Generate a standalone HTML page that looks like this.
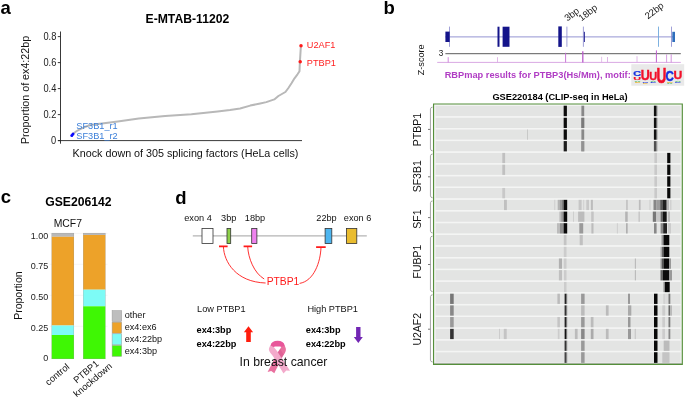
<!DOCTYPE html>
<html lang="en">
<head>
<meta charset="utf-8">
<title>Figure</title>
<style>
html,body{margin:0;padding:0;background:#fff;}
body{width:685px;height:397px;overflow:hidden;}
svg{display:block;font-family:"Liberation Sans", Arial, sans-serif;}
</style>
</head>
<body>
<svg width="685" height="397" viewBox="0 0 685 397">
<rect width="685" height="397" fill="#fff"/>
<text x="0.5" y="14.1" font-size="18.5" fill="#000" font-weight="bold">a</text>
<text x="187.4" y="23.4" font-size="12.2" fill="#000" font-weight="bold" text-anchor="middle">E-MTAB-11202</text>
<path d="M60.5 31.5V143.7M58 140.6H302" fill="none" stroke="#222" stroke-width="0.9"/>
<path d="M57.8 36.6H60.5" stroke="#222" stroke-width="0.9"/>
<text transform="translate(56.3 40.45) scale(0.93 1)" font-size="10" fill="#222" text-anchor="end">0.8</text>
<path d="M57.8 62.6H60.5" stroke="#222" stroke-width="0.9"/>
<text transform="translate(56.3 66.45) scale(0.93 1)" font-size="10" fill="#222" text-anchor="end">0.6</text>
<path d="M57.8 88.6H60.5" stroke="#222" stroke-width="0.9"/>
<text transform="translate(56.3 92.45) scale(0.93 1)" font-size="10" fill="#222" text-anchor="end">0.4</text>
<path d="M57.8 114.6H60.5" stroke="#222" stroke-width="0.9"/>
<text transform="translate(56.3 118.45) scale(0.93 1)" font-size="10" fill="#222" text-anchor="end">0.2</text>
<path d="M57.8 140.6H60.5" stroke="#222" stroke-width="0.9"/>
<text transform="translate(56.3 144.45) scale(0.93 1)" font-size="10" fill="#222" text-anchor="end">0</text>
<text x="29.0" y="90.0" font-size="10.7" fill="#111" text-anchor="middle" transform="rotate(-90 29.0 90.0)">Proportion of ex4:22bp</text>
<text x="185.5" y="156.9" font-size="10.75" fill="#111" text-anchor="middle">Knock down of 305 splicing factors (HeLa cells)</text>
<polyline fill="none" stroke="#b8b8b8" stroke-width="2.0" stroke-linejoin="round" points="71.8,135.4 73.2,133.8 76,131.5 79.7,129.4 84,127.3 88.9,125.5 95,124.3 102,123.4 117.8,121.5 138.8,118.6 165.1,116 191.4,114.2 217.6,111.5 230,110 240.1,108.5 250.2,105.6 260.2,103.5 266.3,102.1 274.3,99.4 278.4,96 285.4,92 288.4,88 291.5,83.3 294.5,78.3 297.5,74.3 299.5,71.2 299.9,61.8 300.9,46"/>
<circle cx="71.8" cy="135.4" r="1.5" fill="#0a0aff"/><circle cx="73.0" cy="133.9" r="1.5" fill="#0a0aff"/>
<circle cx="301.0" cy="45.8" r="1.75" fill="#ff1a1a"/><circle cx="300.2" cy="61.8" r="1.75" fill="#ff1a1a"/>
<text x="306.8" y="47.9" font-size="9.2" fill="#ff1f1f">U2AF1</text>
<text x="306.8" y="66.2" font-size="9.2" fill="#ff1f1f">PTBP1</text>
<text x="76.3" y="129.4" font-size="9.2" fill="#3b7fd9">SF3B1_r1</text>
<text x="76.3" y="138.7" font-size="9.2" fill="#3b7fd9">SF3B1_r2</text>
<text x="0.7" y="203.3" font-size="18.5" fill="#000" font-weight="bold">c</text>
<text x="78.4" y="205.8" font-size="12.2" fill="#000" font-weight="bold" text-anchor="middle">GSE206142</text>
<text x="67.8" y="226.8" font-size="10.4" fill="#111" text-anchor="middle">MCF7</text>
<path d="M49.5 233.4H107.5M49.5 264.3H107.5M49.5 295.3H107.5M49.5 326.3H107.5" stroke="#f1f1f1" stroke-width="0.7"/>
<rect x="51.70" y="233.00" width="22.30" height="3.80" fill="#b9b9b9"/>
<rect x="51.70" y="236.80" width="22.30" height="88.70" fill="#eda229"/>
<rect x="51.70" y="325.50" width="22.30" height="9.50" fill="#7dfbf6"/>
<rect x="51.70" y="335.00" width="22.30" height="24.00" fill="#3ff704"/>
<rect x="51.85" y="233.15" width="22.00" height="125.7" fill="none" stroke="#9a9a9a" stroke-width="0.35" opacity="0.8"/>
<rect x="83.10" y="233.00" width="22.30" height="2.00" fill="#b9b9b9"/>
<rect x="83.10" y="235.00" width="22.30" height="54.70" fill="#eda229"/>
<rect x="83.10" y="289.70" width="22.30" height="16.60" fill="#7dfbf6"/>
<rect x="83.10" y="306.30" width="22.30" height="52.70" fill="#3ff704"/>
<rect x="83.25" y="233.15" width="22.00" height="125.7" fill="none" stroke="#9a9a9a" stroke-width="0.35" opacity="0.8"/>
<text x="48.2" y="238.70000000000002" font-size="9" fill="#222" text-anchor="end">1.00</text>
<text x="48.2" y="269.3" font-size="9" fill="#222" text-anchor="end">0.75</text>
<text x="48.2" y="300.3" font-size="9" fill="#222" text-anchor="end">0.50</text>
<text x="48.2" y="330.90000000000003" font-size="9" fill="#222" text-anchor="end">0.25</text>
<text x="48.2" y="360.90000000000003" font-size="9" fill="#222" text-anchor="end">0</text>
<text x="22.2" y="295.6" font-size="10.5" fill="#111" text-anchor="middle" transform="rotate(-90 22.2 295.6)">Proportion</text>
<rect x="112.10" y="310.60" width="9.60" height="11.00" fill="#bebebe" stroke="#9a9a9a" stroke-width="0.5"/>
<text x="124.7" y="318.2" font-size="9.1" fill="#111">other</text>
<rect x="112.10" y="322.20" width="9.60" height="11.00" fill="#eda229" stroke="#9a9a9a" stroke-width="0.5"/>
<text x="124.7" y="330.13" font-size="9.1" fill="#111">ex4:ex6</text>
<rect x="112.10" y="333.80" width="9.60" height="11.00" fill="#7dfbf6" stroke="#9a9a9a" stroke-width="0.5"/>
<text x="124.7" y="342.06" font-size="9.1" fill="#111">ex4:22bp</text>
<rect x="112.10" y="345.40" width="9.60" height="11.00" fill="#3ff704" stroke="#9a9a9a" stroke-width="0.5"/>
<text x="124.7" y="353.99" font-size="9.1" fill="#111">ex4:3bp</text>
<text x="70.0" y="367.8" font-size="9.4" fill="#111" text-anchor="end" transform="rotate(-40 70.0 367.8)">control</text>
<g transform="translate(88.0 374.2) rotate(-40)"><text font-size="9.4" fill="#111" text-anchor="middle"><tspan x="0" y="0">PTBP1</tspan><tspan x="0" y="10.6">knockdown</tspan></text></g>
<text x="175.2" y="204.1" font-size="18.5" fill="#000" font-weight="bold">d</text>
<path d="M192.8 235.9H366.8" stroke="#b4b4b4" stroke-width="1.1"/>
<rect x="202.00" y="228.40" width="11.00" height="15.20" fill="#ffffff" stroke="#333" stroke-width="0.8"/>
<rect x="227.00" y="228.40" width="3.70" height="15.20" fill="#8ed04a" stroke="#333" stroke-width="0.8"/>
<rect x="251.70" y="228.40" width="5.20" height="15.20" fill="#ee82ee" stroke="#333" stroke-width="0.8"/>
<rect x="325.10" y="228.40" width="6.70" height="15.20" fill="#4db5ef" stroke="#333" stroke-width="0.8"/>
<rect x="346.40" y="228.40" width="10.40" height="15.20" fill="#e9bc2f" stroke="#333" stroke-width="0.8"/>
<text x="198.0" y="221.4" font-size="9.2" fill="#111" text-anchor="middle">exon 4</text>
<text x="228.7" y="221.4" font-size="9.2" fill="#111" text-anchor="middle">3bp</text>
<text x="255.0" y="221.4" font-size="9.2" fill="#111" text-anchor="middle">18bp</text>
<text x="326.5" y="221.4" font-size="9.2" fill="#111" text-anchor="middle">22bp</text>
<text x="357.6" y="221.4" font-size="9.2" fill="#111" text-anchor="middle">exon 6</text>
<path d="M219 246.4H227.6M243.6 246.4H252.1M316.1 247.1H325.7" stroke="#ff1a1a" stroke-width="1.7" fill="none"/>
<path d="M223.4 246.6C224 262 236 282 265.6 283" stroke="#ff1a1a" stroke-width="0.9" fill="none"/>
<path d="M247.7 246.6C248.2 258 254 273 264.2 279" stroke="#ff1a1a" stroke-width="0.9" fill="none"/>
<path d="M321 247.3C320.5 262 314 281 299.6 283.4" stroke="#ff1a1a" stroke-width="0.9" fill="none"/>
<text x="283.0" y="285.4" font-size="10.3" fill="#ff1a1a" text-anchor="middle">PTBP1</text>
<text x="197.1" y="312.0" font-size="9.2" fill="#111">Low PTBP1</text>
<text x="307.4" y="312.0" font-size="9.2" fill="#111">High PTBP1</text>
<text x="196.6" y="333.4" font-size="9.2" fill="#000" font-weight="bold">ex4:3bp</text>
<text x="196.6" y="347.4" font-size="9.2" fill="#000" font-weight="bold">ex4:22bp</text>
<text x="305.8" y="333.3" font-size="9.2" fill="#000" font-weight="bold">ex4:3bp</text>
<text x="305.8" y="347.4" font-size="9.2" fill="#000" font-weight="bold">ex4:22bp</text>
<path d="M248.5 326.2L253.1 332.2H250.8V342H246.2V332.2H243.9Z" fill="#ff1d0d"/>
<path d="M358.3 343L362.8 336.9H360.5V326.9H356.1V336.9H353.8Z" fill="#7226b4"/>
<path d="M281.6 346.6L277.4 353.2L267.6 372L271.2 370.9L274.3 373.3L281.6 358.4C284.4 354 286.4 351.6 285.8 348.6C285.4 346.6 284.4 344.8 283.3 343.4Z" fill="#e9709f"/>
<path d="M273.4 346.6L278.2 352.4L290 370.7L286.3 370.6L283.5 373.5L273.2 356.4C270.4 352.4 268.4 351 269 348.4C269.6 346.2 270.6 344.6 271.9 343.4Z" fill="#f3aacb"/>
<path d="M277.8 352.2L281.4 357.8L283.6 354.6L280.2 349Z" fill="#dc5d93" opacity="0.75"/>
<path d="M270.6 345.4C271.2 342.2 273.6 340.7 277.6 340.7C281.6 340.7 284 342.2 284.6 345.4L281.8 347.1C280.6 346.6 279.4 346.5 277.6 346.5C275.8 346.5 274.6 346.6 273.4 347.1Z" fill="#e8569a"/>
<text x="239.6" y="365.8" font-size="12.25" fill="#111">In breast cancer</text>
<text x="383.6" y="14.1" font-size="18.5" fill="#000" font-weight="bold">b</text>
<path d="M445.4 36.9H675" stroke="#8888cd" stroke-width="0.9"/>
<path d="M449.5 26.6V46.8" stroke="#8888cd" stroke-width="0.8"/>
<path d="M566.9 26.6V46.8" stroke="#8888cd" stroke-width="0.8"/>
<path d="M583.4 26.6V46.8" stroke="#8888cd" stroke-width="0.8"/>
<path d="M671.5 26.6V46.8" stroke="#8888cd" stroke-width="0.8"/>
<path d="M658.5 26.6V46.8" stroke="#6fa8dc" stroke-width="0.9"/>
<rect x="445.40" y="31.60" width="4.30" height="10.40" fill="#14148a"/>
<rect x="497.50" y="26.70" width="2.00" height="20.10" fill="#14148a"/>
<rect x="502.60" y="26.70" width="6.90" height="20.10" fill="#14148a"/>
<rect x="558.30" y="26.40" width="3.50" height="20.50" fill="#14148a"/>
<rect x="583.90" y="31.80" width="0.90" height="10.20" fill="#14148a"/>
<rect x="672.30" y="31.80" width="2.70" height="10.20" fill="#2f6fbd"/>
<text x="567.6" y="21.6" font-size="9.4" fill="#111" transform="rotate(-38 567.6 21.6)">3bp</text>
<text x="581.6" y="21.6" font-size="9.4" fill="#111" transform="rotate(-38 581.6 21.6)">18bp</text>
<text x="648.0" y="19.6" font-size="9.4" fill="#111" transform="rotate(-38 648.0 19.6)">22bp</text>
<text x="441.0" y="56.4" font-size="8.2" fill="#222" text-anchor="middle">3</text>
<path d="M445.4 53.7H680.8" stroke="#4a4a4a" stroke-width="0.9"/>
<path d="M437.2 62.4H680.8" stroke="#cf93dc" stroke-width="0.8"/>
<path d="M448.2 57.2V62.4" stroke="#c76fd6" stroke-width="0.8"/>
<path d="M497.5 57.2V62.4" stroke="#d9a7e2" stroke-width="0.8"/>
<path d="M565.6 52.8V62.4" stroke="#c36ad3" stroke-width="0.9"/>
<path d="M582.8 51.2V62.4" stroke="#b95ccb" stroke-width="1.3"/>
<path d="M601.6 56.8V62.4" stroke="#dcb0e5" stroke-width="0.8"/>
<path d="M607.5 57.0V62.4" stroke="#d7a5e1" stroke-width="0.8"/>
<path d="M637.0 56.2V62.4" stroke="#dcb2e6" stroke-width="0.9"/>
<path d="M656.4 50.4V62.4" stroke="#bd62ce" stroke-width="1.0"/>
<path d="M666.6 54.4V62.4" stroke="#cc85da" stroke-width="0.8"/>
<path d="M671.2 54.4V62.4" stroke="#c777d6" stroke-width="0.8"/>
<text x="423.8" y="59.8" font-size="9.1" fill="#111" text-anchor="middle" transform="rotate(-90 423.8 59.8)">Z-score</text>
<text x="444.7" y="77.8" font-size="9.25" fill="#b03cc4" font-weight="bold">RBPmap results for PTBP3(Hs/Mm), motif:</text>
<rect x="631.30" y="64.20" width="52.90" height="21.50" fill="#e9e9e9"/>
<text transform="translate(633.25 76.43) scale(1.087 0.806)" font-size="10" font-weight="bold" fill="#1530e0" stroke="#1530e0" stroke-width="0.3">C</text>
<text transform="translate(640.75 80.07) scale(1.250 1.435)" font-size="10" font-weight="bold" fill="#f2102a" stroke="#f2102a" stroke-width="0.3">U</text>
<text transform="translate(649.34 79.50) scale(1.100 1.090)" font-size="10" font-weight="bold" fill="#f2102a" stroke="#f2102a" stroke-width="0.3">U</text>
<text transform="translate(656.38 83.20) scale(1.367 2.267)" font-size="10" font-weight="bold" fill="#f2102a" stroke="#f2102a" stroke-width="0.3">U</text>
<text transform="translate(665.53 80.76) scale(1.149 1.513)" font-size="10" font-weight="bold" fill="#1530e0" stroke="#1530e0" stroke-width="0.3">C</text>
<text transform="translate(673.47 78.89) scale(1.217 1.176)" font-size="10" font-weight="bold" fill="#f2102a" stroke="#f2102a" stroke-width="0.3">U</text>
<text transform="translate(633.34 79.57) scale(1.100 0.359)" font-size="10" font-weight="bold" fill="#f2102a" stroke="#f2102a" stroke-width="0.15">U</text>
<text transform="translate(634.18 81.70) scale(0.896 0.218)" font-size="10" font-weight="bold" fill="#22b14c" stroke="#22b14c" stroke-width="0.15">A</text>
<text transform="translate(634.70 83.09) scale(0.742 0.141)" font-size="10" font-weight="bold" fill="#f0a800" stroke="#f0a800" stroke-width="0.15">G</text>
<text transform="translate(642.15 82.78) scale(0.842 0.212)" font-size="10" font-weight="bold" fill="#1530e0" stroke="#1530e0" stroke-width="0.15">C</text>
<text transform="translate(642.73 83.79) scale(0.668 0.113)" font-size="10" font-weight="bold" fill="#f0a800" stroke="#f0a800" stroke-width="0.15">G</text>
<text transform="translate(650.29 81.80) scale(0.821 0.233)" font-size="10" font-weight="bold" fill="#22b14c" stroke="#22b14c" stroke-width="0.15">A</text>
<text transform="translate(650.15 83.18) scale(0.842 0.170)" font-size="10" font-weight="bold" fill="#1530e0" stroke="#1530e0" stroke-width="0.15">C</text>
<text transform="translate(666.67 82.59) scale(0.816 0.113)" font-size="10" font-weight="bold" fill="#f0a800" stroke="#f0a800" stroke-width="0.15">G</text>
<text transform="translate(666.79 83.60) scale(0.821 0.116)" font-size="10" font-weight="bold" fill="#22b14c" stroke="#22b14c" stroke-width="0.15">A</text>
<text transform="translate(674.78 81.50) scale(0.896 0.218)" font-size="10" font-weight="bold" fill="#22b14c" stroke="#22b14c" stroke-width="0.15">A</text>
<text transform="translate(674.62 82.98) scale(0.919 0.184)" font-size="10" font-weight="bold" fill="#1530e0" stroke="#1530e0" stroke-width="0.15">C</text>
<text x="560.0" y="99.6" font-size="9.25" fill="#000" font-weight="bold" text-anchor="middle">GSE220184 (CLIP-seq in HeLa)</text>
<rect x="433.55" y="104.00" width="248.75" height="260.30" fill="#f4f4f4"/>
<path d="M434.2 363.45H681.8" stroke="#9a9a9a" stroke-width="0.6"/>
<path d="M433.55 104.0H682.3V364.3H433.55Z" fill="none" stroke="#558f3a" stroke-width="1.15"/>
<rect x="435.60" y="105.90" width="245.00" height="10.35" fill="#e3e4e3"/>
<rect x="435.60" y="117.63" width="245.00" height="10.35" fill="#e3e4e3"/>
<rect x="435.60" y="129.36" width="245.00" height="10.35" fill="#e3e4e3"/>
<rect x="435.60" y="141.09" width="245.00" height="10.35" fill="#e3e4e3"/>
<rect x="435.60" y="152.82" width="245.00" height="10.35" fill="#e3e4e3"/>
<rect x="435.60" y="164.55" width="245.00" height="10.35" fill="#e3e4e3"/>
<rect x="435.60" y="176.28" width="245.00" height="10.35" fill="#e3e4e3"/>
<rect x="435.60" y="188.01" width="245.00" height="10.35" fill="#e3e4e3"/>
<rect x="435.60" y="199.74" width="245.00" height="10.35" fill="#e3e4e3"/>
<rect x="435.60" y="211.47" width="245.00" height="10.35" fill="#e3e4e3"/>
<rect x="435.60" y="223.20" width="245.00" height="10.35" fill="#e3e4e3"/>
<rect x="435.60" y="234.93" width="245.00" height="10.35" fill="#e3e4e3"/>
<rect x="435.60" y="246.66" width="245.00" height="10.35" fill="#e3e4e3"/>
<rect x="435.60" y="258.39" width="245.00" height="10.35" fill="#e3e4e3"/>
<rect x="435.60" y="270.12" width="245.00" height="10.35" fill="#e3e4e3"/>
<rect x="435.60" y="281.85" width="245.00" height="10.35" fill="#e3e4e3"/>
<rect x="435.60" y="293.58" width="245.00" height="10.35" fill="#e3e4e3"/>
<rect x="435.60" y="305.31" width="245.00" height="10.35" fill="#e3e4e3"/>
<rect x="435.60" y="317.04" width="245.00" height="10.35" fill="#e3e4e3"/>
<rect x="435.60" y="328.77" width="245.00" height="10.35" fill="#e3e4e3"/>
<rect x="435.60" y="340.50" width="245.00" height="10.35" fill="#e3e4e3"/>
<rect x="435.60" y="352.23" width="245.00" height="10.35" fill="#e3e4e3"/>
<rect x="563.40" y="105.70" width="0.60" height="10.85" fill="#666666"/>
<rect x="563.40" y="117.43" width="0.60" height="10.85" fill="#666666"/>
<rect x="563.40" y="129.16" width="0.60" height="10.85" fill="#666666"/>
<rect x="564.00" y="105.70" width="2.90" height="10.85" fill="#0c0c0c"/>
<rect x="564.00" y="117.43" width="2.90" height="10.85" fill="#0c0c0c"/>
<rect x="564.00" y="129.16" width="2.90" height="10.85" fill="#0c0c0c"/>
<rect x="563.40" y="140.89" width="0.60" height="10.85" fill="#777777"/>
<rect x="564.00" y="140.89" width="2.90" height="10.85" fill="#1c1c1c"/>
<rect x="581.40" y="105.70" width="2.80" height="10.85" fill="#888888"/>
<rect x="581.40" y="117.43" width="2.80" height="10.85" fill="#888888"/>
<rect x="581.40" y="129.16" width="2.80" height="10.85" fill="#888888"/>
<rect x="581.40" y="140.89" width="2.80" height="10.85" fill="#888888"/>
<rect x="581.40" y="117.43" width="2.80" height="10.85" fill="#7a7a7a"/>
<rect x="581.40" y="140.89" width="2.80" height="10.85" fill="#929292"/>
<rect x="653.90" y="105.70" width="2.10" height="10.85" fill="#101010"/>
<rect x="653.90" y="117.43" width="2.10" height="10.85" fill="#101010"/>
<rect x="653.90" y="129.16" width="2.10" height="10.85" fill="#101010"/>
<rect x="656.00" y="105.70" width="1.30" height="10.85" fill="#6a6a6a"/>
<rect x="656.00" y="117.43" width="1.30" height="10.85" fill="#6a6a6a"/>
<rect x="656.00" y="129.16" width="1.30" height="10.85" fill="#6a6a6a"/>
<rect x="653.90" y="140.89" width="2.10" height="10.85" fill="#505050"/>
<rect x="656.00" y="140.89" width="1.30" height="10.85" fill="#909090"/>
<rect x="527.00" y="129.16" width="0.90" height="10.85" fill="#c6c6c6"/>
<rect x="502.30" y="152.62" width="2.80" height="10.85" fill="#c0c0c0"/>
<rect x="502.30" y="164.35" width="2.80" height="10.85" fill="#c0c0c0"/>
<rect x="502.30" y="187.81" width="2.80" height="10.85" fill="#c8c8c8"/>
<rect x="654.40" y="152.62" width="2.60" height="10.85" fill="#c9c9c9"/>
<rect x="654.40" y="164.35" width="2.60" height="10.85" fill="#c9c9c9"/>
<rect x="654.40" y="176.08" width="2.60" height="10.85" fill="#c9c9c9"/>
<rect x="654.40" y="187.81" width="2.60" height="10.85" fill="#c9c9c9"/>
<rect x="667.20" y="152.62" width="3.20" height="10.85" fill="#080808"/>
<rect x="667.20" y="164.35" width="3.20" height="10.85" fill="#080808"/>
<rect x="667.20" y="176.08" width="3.20" height="10.85" fill="#080808"/>
<rect x="667.20" y="187.81" width="3.20" height="10.85" fill="#080808"/>
<rect x="504.00" y="199.54" width="2.90" height="10.85" fill="#c0c0c0"/>
<rect x="554.40" y="199.54" width="0.80" height="10.85" fill="#c8c8c8"/>
<rect x="557.70" y="199.54" width="2.30" height="10.85" fill="#b4b4b4"/>
<rect x="560.00" y="199.54" width="2.00" height="10.85" fill="#9c9c9c"/>
<rect x="562.00" y="199.54" width="1.60" height="10.85" fill="#808080"/>
<rect x="563.60" y="199.54" width="3.60" height="10.85" fill="#0a0a0a"/>
<rect x="578.60" y="199.54" width="3.00" height="10.85" fill="#c6c6c6"/>
<rect x="583.00" y="199.54" width="1.20" height="10.85" fill="#d4d4d4"/>
<rect x="586.30" y="199.54" width="2.70" height="10.85" fill="#c8c8c8"/>
<rect x="590.90" y="199.54" width="2.00" height="10.85" fill="#bcbcbc"/>
<rect x="626.30" y="199.54" width="1.30" height="10.85" fill="#b8b8b8"/>
<rect x="638.90" y="199.54" width="1.70" height="10.85" fill="#bcbcbc"/>
<rect x="649.50" y="199.54" width="1.00" height="10.85" fill="#cccccc"/>
<rect x="653.50" y="199.54" width="2.70" height="10.85" fill="#868686"/>
<rect x="656.20" y="199.54" width="4.00" height="10.85" fill="#9c9c9c"/>
<rect x="660.20" y="199.54" width="2.80" height="10.85" fill="#585858"/>
<rect x="663.00" y="199.54" width="3.70" height="10.85" fill="#202020"/>
<rect x="666.70" y="199.54" width="2.30" height="10.85" fill="#b8b8b8"/>
<rect x="670.20" y="199.54" width="1.20" height="10.85" fill="#cccccc"/>
<rect x="559.40" y="211.27" width="1.80" height="10.85" fill="#bcbcbc"/>
<rect x="561.20" y="211.27" width="2.40" height="10.85" fill="#989898"/>
<rect x="563.60" y="211.27" width="3.60" height="10.85" fill="#0a0a0a"/>
<rect x="573.00" y="211.27" width="0.90" height="10.85" fill="#cccccc"/>
<rect x="578.10" y="211.27" width="6.30" height="10.85" fill="#bcbcbc"/>
<rect x="591.20" y="211.27" width="2.50" height="10.85" fill="#c4c4c4"/>
<rect x="625.20" y="211.27" width="2.50" height="10.85" fill="#b4b4b4"/>
<rect x="638.40" y="211.27" width="1.60" height="10.85" fill="#c8c8c8"/>
<rect x="652.80" y="211.27" width="3.50" height="10.85" fill="#787878"/>
<rect x="656.30" y="211.27" width="4.30" height="10.85" fill="#c8c8c8"/>
<rect x="660.60" y="211.27" width="2.40" height="10.85" fill="#666666"/>
<rect x="663.00" y="211.27" width="3.70" height="10.85" fill="#141414"/>
<rect x="667.80" y="211.27" width="2.20" height="10.85" fill="#bcbcbc"/>
<rect x="557.00" y="223.00" width="3.00" height="10.85" fill="#bcbcbc"/>
<rect x="560.00" y="223.00" width="3.60" height="10.85" fill="#909090"/>
<rect x="563.60" y="223.00" width="3.60" height="10.85" fill="#0a0a0a"/>
<rect x="579.30" y="223.00" width="3.90" height="10.85" fill="#9a9a9a"/>
<rect x="591.40" y="223.00" width="2.10" height="10.85" fill="#bcbcbc"/>
<rect x="616.90" y="223.00" width="0.90" height="10.85" fill="#cccccc"/>
<rect x="626.10" y="223.00" width="1.50" height="10.85" fill="#aaaaaa"/>
<rect x="654.00" y="223.00" width="2.60" height="10.85" fill="#888888"/>
<rect x="660.60" y="223.00" width="2.60" height="10.85" fill="#888888"/>
<rect x="663.20" y="223.00" width="3.80" height="10.85" fill="#242424"/>
<rect x="668.00" y="223.00" width="3.00" height="10.85" fill="#cccccc"/>
<rect x="563.80" y="234.73" width="2.70" height="10.85" fill="#c4c4c4"/>
<rect x="579.70" y="234.73" width="3.10" height="10.85" fill="#c0c0c0"/>
<rect x="661.50" y="234.73" width="2.00" height="10.85" fill="#999999"/>
<rect x="663.50" y="234.73" width="5.80" height="10.85" fill="#080808"/>
<rect x="563.80" y="246.46" width="2.70" height="10.85" fill="#cccccc"/>
<rect x="660.50" y="246.46" width="1.50" height="10.85" fill="#aaaaaa"/>
<rect x="662.00" y="246.46" width="1.50" height="10.85" fill="#666666"/>
<rect x="663.50" y="246.46" width="5.80" height="10.85" fill="#080808"/>
<rect x="558.90" y="258.19" width="3.10" height="10.85" fill="#b0b0b0"/>
<rect x="563.80" y="258.19" width="2.70" height="10.85" fill="#cccccc"/>
<rect x="634.90" y="258.19" width="0.80" height="10.85" fill="#aaaaaa"/>
<rect x="660.50" y="258.19" width="1.50" height="10.85" fill="#999999"/>
<rect x="662.00" y="258.19" width="1.50" height="10.85" fill="#555555"/>
<rect x="663.50" y="258.19" width="5.80" height="10.85" fill="#080808"/>
<rect x="669.30" y="258.19" width="1.70" height="10.85" fill="#999999"/>
<rect x="558.90" y="269.92" width="3.10" height="10.85" fill="#c0c0c0"/>
<rect x="564.00" y="269.92" width="2.50" height="10.85" fill="#cccccc"/>
<rect x="634.90" y="269.92" width="0.80" height="10.85" fill="#aaaaaa"/>
<rect x="660.50" y="269.92" width="2.50" height="10.85" fill="#666666"/>
<rect x="663.00" y="269.92" width="6.30" height="10.85" fill="#0c0c0c"/>
<rect x="669.30" y="269.92" width="2.70" height="10.85" fill="#999999"/>
<rect x="564.00" y="281.65" width="2.50" height="10.85" fill="#cccccc"/>
<rect x="663.50" y="281.65" width="1.50" height="10.85" fill="#888888"/>
<rect x="665.00" y="281.65" width="4.70" height="10.85" fill="#080808"/>
<rect x="450.10" y="293.38" width="3.60" height="10.85" fill="#777777"/>
<rect x="450.10" y="305.11" width="3.60" height="10.85" fill="#888888"/>
<rect x="450.10" y="316.84" width="3.60" height="10.85" fill="#999999"/>
<rect x="450.10" y="328.57" width="3.60" height="10.85" fill="#333333"/>
<rect x="499.00" y="328.57" width="1.00" height="10.85" fill="#cccccc"/>
<rect x="503.80" y="328.57" width="2.90" height="10.85" fill="#c4c4c4"/>
<rect x="564.20" y="293.38" width="0.70" height="10.85" fill="#888888"/>
<rect x="564.90" y="293.38" width="1.70" height="10.85" fill="#222222"/>
<rect x="566.60" y="293.38" width="0.60" height="10.85" fill="#888888"/>
<rect x="564.20" y="305.11" width="0.70" height="10.85" fill="#888888"/>
<rect x="564.90" y="305.11" width="1.70" height="10.85" fill="#333333"/>
<rect x="566.60" y="305.11" width="0.60" height="10.85" fill="#888888"/>
<rect x="564.20" y="316.84" width="0.70" height="10.85" fill="#888888"/>
<rect x="564.90" y="316.84" width="1.70" height="10.85" fill="#222222"/>
<rect x="566.60" y="316.84" width="0.60" height="10.85" fill="#888888"/>
<rect x="564.20" y="328.57" width="0.70" height="10.85" fill="#888888"/>
<rect x="564.90" y="328.57" width="1.70" height="10.85" fill="#111111"/>
<rect x="566.60" y="328.57" width="0.60" height="10.85" fill="#888888"/>
<rect x="564.20" y="340.30" width="0.70" height="10.85" fill="#888888"/>
<rect x="564.90" y="340.30" width="1.70" height="10.85" fill="#333333"/>
<rect x="566.60" y="340.30" width="0.60" height="10.85" fill="#888888"/>
<rect x="564.20" y="352.03" width="0.70" height="10.85" fill="#888888"/>
<rect x="564.90" y="352.03" width="1.70" height="10.85" fill="#444444"/>
<rect x="566.60" y="352.03" width="0.60" height="10.85" fill="#888888"/>
<rect x="581.10" y="293.38" width="3.50" height="10.85" fill="#999999"/>
<rect x="581.10" y="305.11" width="3.50" height="10.85" fill="#bbbbbb"/>
<rect x="581.10" y="316.84" width="3.50" height="10.85" fill="#999999"/>
<rect x="581.10" y="328.57" width="3.50" height="10.85" fill="#888888"/>
<rect x="581.10" y="340.30" width="3.50" height="10.85" fill="#999999"/>
<rect x="581.10" y="352.03" width="3.50" height="10.85" fill="#999999"/>
<rect x="654.00" y="293.38" width="3.50" height="10.85" fill="#080808"/>
<rect x="654.00" y="305.11" width="3.50" height="10.85" fill="#080808"/>
<rect x="654.00" y="316.84" width="3.50" height="10.85" fill="#080808"/>
<rect x="654.00" y="328.57" width="3.50" height="10.85" fill="#080808"/>
<rect x="654.00" y="340.30" width="3.50" height="10.85" fill="#080808"/>
<rect x="654.00" y="352.03" width="3.50" height="10.85" fill="#080808"/>
<rect x="557.40" y="293.38" width="2.50" height="10.85" fill="#bbbbbb"/>
<rect x="557.40" y="316.84" width="2.50" height="10.85" fill="#c4c4c4"/>
<rect x="557.80" y="328.57" width="1.70" height="10.85" fill="#cccccc"/>
<rect x="628.00" y="293.38" width="2.00" height="10.85" fill="#999999"/>
<rect x="628.00" y="305.11" width="3.30" height="10.85" fill="#aaaaaa"/>
<rect x="628.00" y="316.84" width="2.50" height="10.85" fill="#999999"/>
<rect x="628.00" y="328.57" width="3.00" height="10.85" fill="#999999"/>
<rect x="605.90" y="305.11" width="2.70" height="10.85" fill="#bbbbbb"/>
<rect x="605.90" y="328.57" width="2.70" height="10.85" fill="#bbbbbb"/>
<rect x="590.80" y="316.84" width="2.70" height="10.85" fill="#bbbbbb"/>
<rect x="590.80" y="328.57" width="2.70" height="10.85" fill="#aaaaaa"/>
<rect x="574.90" y="328.57" width="2.70" height="10.85" fill="#bbbbbb"/>
<rect x="634.80" y="328.57" width="0.80" height="10.85" fill="#bbbbbb"/>
<rect x="663.70" y="293.38" width="0.90" height="10.85" fill="#bbbbbb"/>
<rect x="664.60" y="293.38" width="3.90" height="10.85" fill="#dcdcdc"/>
<rect x="668.50" y="293.38" width="1.80" height="10.85" fill="#777777"/>
<rect x="662.30" y="305.11" width="2.90" height="10.85" fill="#cccccc"/>
<rect x="668.50" y="305.11" width="1.80" height="10.85" fill="#666666"/>
<rect x="670.30" y="305.11" width="1.70" height="10.85" fill="#bbbbbb"/>
<rect x="662.30" y="316.84" width="2.70" height="10.85" fill="#cccccc"/>
<rect x="668.50" y="316.84" width="1.80" height="10.85" fill="#777777"/>
<rect x="662.30" y="328.57" width="2.70" height="10.85" fill="#cccccc"/>
<rect x="668.50" y="328.57" width="1.80" height="10.85" fill="#888888"/>
<rect x="663.70" y="340.30" width="5.80" height="10.85" fill="#bbbbbb"/>
<rect x="662.30" y="352.03" width="7.20" height="10.85" fill="#c4c4c4"/>
<rect x="435.60" y="116.25" width="245.00" height="1.38" fill="#f3f4f3" opacity="0.85"/>
<rect x="435.60" y="127.98" width="245.00" height="1.38" fill="#f3f4f3" opacity="0.85"/>
<rect x="435.60" y="139.71" width="245.00" height="1.38" fill="#f3f4f3" opacity="0.85"/>
<rect x="435.60" y="151.44" width="245.00" height="1.38" fill="#f3f4f3" opacity="0.85"/>
<rect x="435.60" y="163.17" width="245.00" height="1.38" fill="#f3f4f3" opacity="0.85"/>
<rect x="435.60" y="174.90" width="245.00" height="1.38" fill="#f3f4f3" opacity="0.85"/>
<rect x="435.60" y="186.63" width="245.00" height="1.38" fill="#f3f4f3" opacity="0.85"/>
<rect x="435.60" y="198.36" width="245.00" height="1.38" fill="#f3f4f3" opacity="0.85"/>
<rect x="435.60" y="210.09" width="245.00" height="1.38" fill="#f3f4f3" opacity="0.85"/>
<rect x="435.60" y="221.82" width="245.00" height="1.38" fill="#f3f4f3" opacity="0.85"/>
<rect x="435.60" y="233.55" width="245.00" height="1.38" fill="#f3f4f3" opacity="0.85"/>
<rect x="435.60" y="245.28" width="245.00" height="1.38" fill="#f3f4f3" opacity="0.85"/>
<rect x="435.60" y="257.01" width="245.00" height="1.38" fill="#f3f4f3" opacity="0.85"/>
<rect x="435.60" y="268.74" width="245.00" height="1.38" fill="#f3f4f3" opacity="0.85"/>
<rect x="435.60" y="280.47" width="245.00" height="1.38" fill="#f3f4f3" opacity="0.85"/>
<rect x="435.60" y="292.20" width="245.00" height="1.38" fill="#f3f4f3" opacity="0.85"/>
<rect x="435.60" y="303.93" width="245.00" height="1.38" fill="#f3f4f3" opacity="0.85"/>
<rect x="435.60" y="315.66" width="245.00" height="1.38" fill="#f3f4f3" opacity="0.85"/>
<rect x="435.60" y="327.39" width="245.00" height="1.38" fill="#f3f4f3" opacity="0.85"/>
<rect x="435.60" y="339.12" width="245.00" height="1.38" fill="#f3f4f3" opacity="0.85"/>
<rect x="435.60" y="350.85" width="245.00" height="1.38" fill="#f3f4f3" opacity="0.85"/>
<path d="M432.6 107.10Q430.45 107.30 430.45 108.90V149.04Q430.45 150.64 432.6 150.84" fill="none" stroke="#9e9e9e" stroke-width="0.9"/>
<path d="M428.0 129.40H430.2" stroke="#555" stroke-width="0.8"/>
<text x="421.4" y="129.6" font-size="10.5" fill="#111" text-anchor="middle" transform="rotate(-90 421.4 129.6)">PTBP1</text>
<path d="M432.6 154.02Q430.45 154.22 430.45 155.82V195.96Q430.45 197.56 432.6 197.76" fill="none" stroke="#9e9e9e" stroke-width="0.9"/>
<path d="M428.0 176.80H430.2" stroke="#555" stroke-width="0.8"/>
<text x="421.4" y="176.3" font-size="10.5" fill="#111" text-anchor="middle" transform="rotate(-90 421.4 176.3)">SF3B1</text>
<path d="M432.6 200.94Q430.45 201.14 430.45 202.74V231.15Q430.45 232.75 432.6 232.95" fill="none" stroke="#9e9e9e" stroke-width="0.9"/>
<path d="M428.0 217.60H430.2" stroke="#555" stroke-width="0.8"/>
<text x="421.4" y="219.0" font-size="10.5" fill="#111" text-anchor="middle" transform="rotate(-90 421.4 219.0)">SF1</text>
<path d="M432.6 236.13Q430.45 236.33 430.45 237.93V289.80Q430.45 291.40 432.6 291.60" fill="none" stroke="#9e9e9e" stroke-width="0.9"/>
<path d="M428.0 264.50H430.2" stroke="#555" stroke-width="0.8"/>
<text x="421.4" y="261.6" font-size="10.5" fill="#111" text-anchor="middle" transform="rotate(-90 421.4 261.6)">FUBP1</text>
<path d="M432.6 294.78Q430.45 294.98 430.45 296.58V360.18Q430.45 361.78 432.6 361.98" fill="none" stroke="#9e9e9e" stroke-width="0.9"/>
<path d="M428.0 329.20H430.2" stroke="#555" stroke-width="0.8"/>
<text x="421.4" y="329.2" font-size="10.5" fill="#111" text-anchor="middle" transform="rotate(-90 421.4 329.2)">U2AF2</text>
</svg>
</body>
</html>
